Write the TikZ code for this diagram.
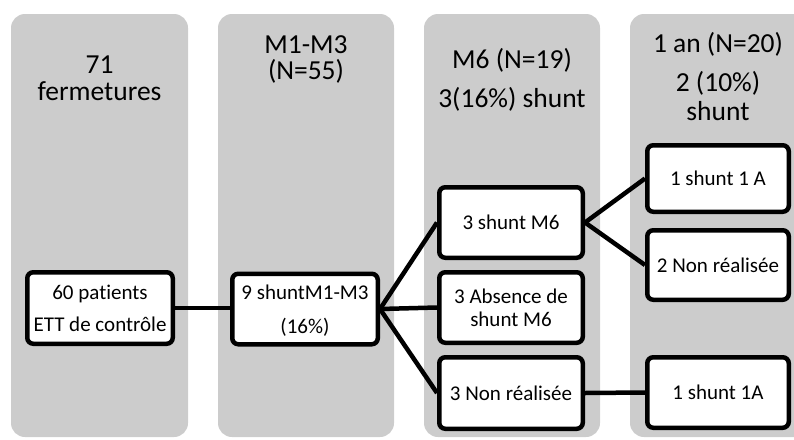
\documentclass[tikz,border=0pt]{standalone}
\usepackage{fontspec}
\setmainfont{Carlito}[Ligatures={NoCommon}]
\definecolor{colgray}{RGB}{204,204,204}
\begin{document}
\begin{tikzpicture}[x=1pt,y=-1pt,
  colpanel/.style={fill=colgray, draw=none, rounded corners=14pt, inner sep=0pt, outer sep=0pt},
  headtext/.style={anchor=base, inner sep=0pt, font=\fontsize{27.5}{30}\selectfont, text=black},
  boxnode/.style={draw=black, fill=white, line width=4.5pt, rounded corners=6pt, inner sep=0pt,
     align=center, font=\fontsize{21}{32}\selectfont, text=black},
  link/.style={draw=black, line width=4.5pt}]
\useasboundingbox (0,0) rectangle (794,439);
\clip (0,0) rectangle (794,439);
% column panels
\node[colpanel, minimum width=177pt, minimum height=423pt] (col1) at (99.5,225.5) {};
\node[colpanel, minimum width=176pt, minimum height=423pt] (col2) at (306,225.5) {};
\node[colpanel, minimum width=176pt, minimum height=423pt] (col3) at (512,225.5) {};
\node[colpanel, minimum width=178pt, minimum height=423pt] (col4) at (719,225.5) {};
% headers
\node[headtext] (h1a) at (99.5,73) {71};
\node[headtext] (h1b) at (99.5,100) {fermetures};
\node[headtext] (h2a) at (306,53) {M1-M3};
\node[headtext] (h2b) at (306,79) {(N=55)};
\node[headtext] (h3a) at (512,68) {M6 (N=19)};
\node[headtext] (h3b) at (512,107) {3(16\%) shunt};
\node[headtext] (h4a) at (718,52) {1 an (N=20)};
\node[headtext] (h4b) at (718,91) {2 (10\%)};
\node[headtext] (h4c) at (718,120) {shunt};
% boxes
\node[boxnode, minimum width=145.5pt, minimum height=71.5pt] (b1) at (100,308) {60 patients\\ETT de contrôle};
\node[boxnode, minimum width=145.5pt, minimum height=70.5pt, font=\fontsize{21}{34}\selectfont, text depth=0pt] (b2) at (305,309) {9 shuntM1-M3\\(16\%)};
\node[boxnode, minimum width=143.5pt, minimum height=70.5pt] (c1) at (511,222.5) {3 shunt M6};
\node[boxnode, minimum width=143.5pt, minimum height=70.5pt, font=\fontsize{21}{23}\selectfont] (c2) at (511,307.5) {3 Absence de\\shunt M6};
\node[boxnode, minimum width=143.5pt, minimum height=71.5pt] (c3) at (511,393) {3 Non réalisée};
\node[boxnode, minimum width=141.5pt, minimum height=66.5pt] (d1) at (718,178.5) {1 shunt 1 A};
\node[boxnode, minimum width=141.5pt, minimum height=69.5pt] (d2) at (718,265) {2 Non réalisée};
\node[boxnode, minimum width=141.5pt, minimum height=70.5pt] (d3) at (718,392.5) {1 shunt 1A};
% connectors
\draw[link] (b1.east) -- (b2.west |- b1.east);
\draw[link] (b2.east) -- (c1.west);
\draw[link] (b2.east) -- (c2.west);
\draw[link] (b2.east) -- (c3.west);
\draw[link] (c1.east) -- (d1.west);
\draw[link] (c1.east) -- (d2.west);
\draw[link] (c3.east) -- (d3.west);
\end{tikzpicture}
\end{document}
